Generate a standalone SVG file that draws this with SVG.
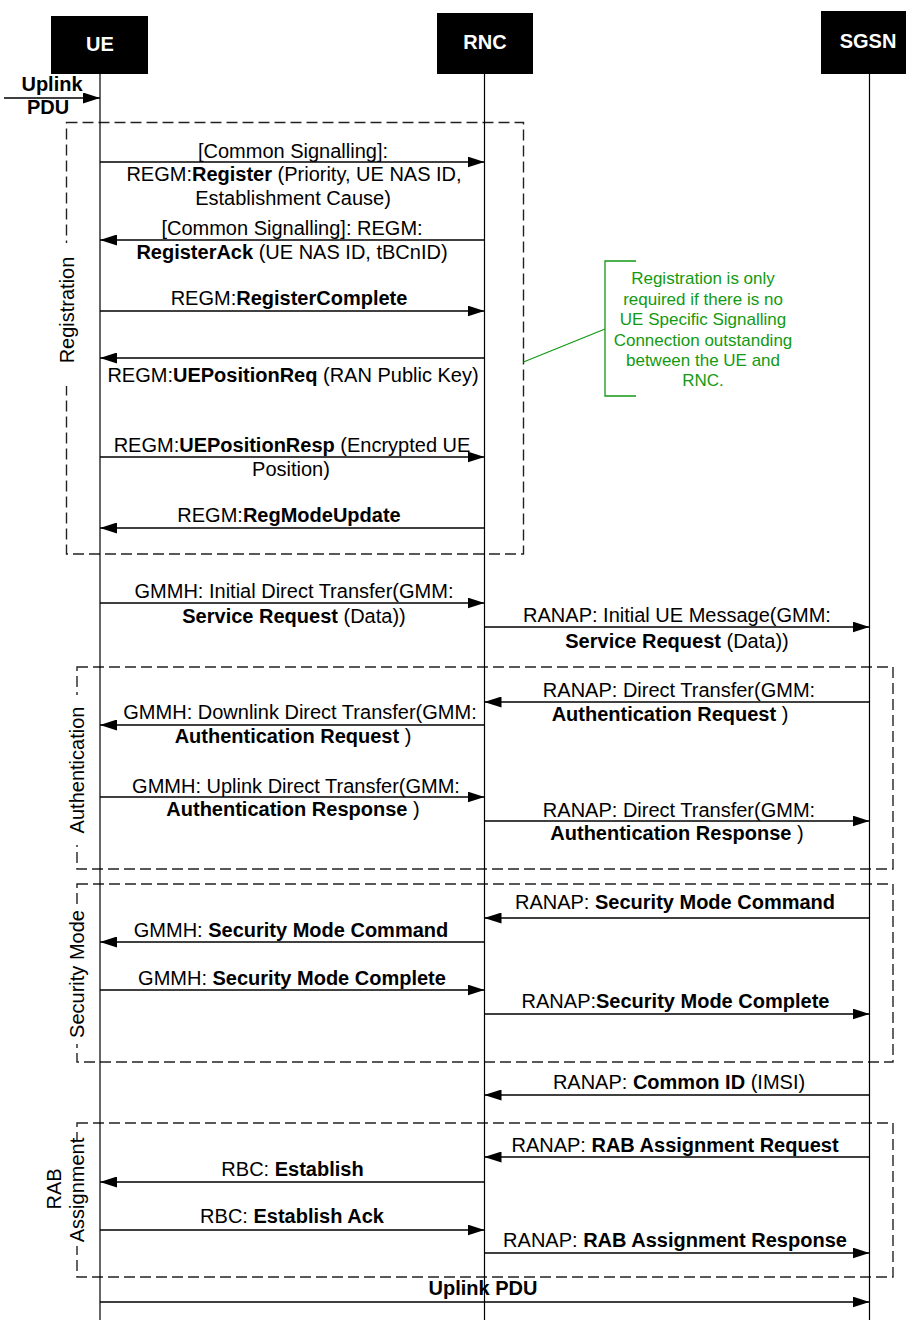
<svg xmlns="http://www.w3.org/2000/svg" width="906" height="1320" viewBox="0 0 906 1320">
<style>
.t{font-family:"Liberation Sans",Arial,sans-serif;font-size:20px;fill:#000;text-anchor:middle}
.b{font-weight:bold}
.hdr{font-family:"Liberation Sans",Arial,sans-serif;font-size:20px;font-weight:bold;fill:#fff;text-anchor:middle}
.note{font-family:"Liberation Sans",Arial,sans-serif;font-size:17px;fill:#129a12;text-anchor:middle}
.msg{stroke:#000;stroke-width:1.3;fill:none;marker-end:url(#ah)}
.life{stroke:#000;stroke-width:1.2}
.frame{fill:none;stroke:#222;stroke-width:1.4;stroke-dasharray:11 5}
.bg{fill:#fff}
</style>
<defs>
<marker id="ah" markerWidth="17" markerHeight="11" refX="17" refY="5.5" orient="auto" markerUnits="userSpaceOnUse"><path d="M0,0 L17,5.5 L0,11 Z" fill="#000"/></marker>
</defs>
<rect width="906" height="1320" fill="#fff"/>

<g id="frames">
<g id="frame-registration">
<rect class="frame" x="66.5" y="122.5" width="457" height="431.5"/>
<rect class="bg" x="56" y="243" width="22" height="143"/>
<text class="t" transform="translate(74,310) rotate(-90)">Registration</text>
</g>
<g id="frame-authentication">
<rect class="frame" x="77" y="667" width="816" height="202"/>
<rect class="bg" x="66" y="695" width="24" height="150"/>
<text class="t" transform="translate(84,770) rotate(-90)">Authentication</text>
</g>
<g id="frame-security">
<rect class="frame" x="77" y="884" width="816" height="178"/>
<rect class="bg" x="66" y="905" width="24" height="139"/>
<text class="t" transform="translate(84,974) rotate(-90)">Security Mode</text>
</g>
<g id="frame-rab">
<rect class="frame" x="77" y="1123" width="816" height="154"/>
<rect class="bg" x="66" y="1140" width="26" height="106"/>
<text class="t" transform="translate(61,1189) rotate(-90)">RAB</text>
<text class="t" transform="translate(84,1190) rotate(-90)">Assignment</text>
</g>
</g>

<g id="UE">
<line class="life" x1="100" y1="74" x2="100" y2="1320"/>
<rect x="51" y="16" width="97" height="58" fill="#000"/>
<text class="hdr" x="100" y="51">UE</text>
</g>
<g id="RNC">
<line class="life" x1="484.5" y1="74" x2="484.5" y2="1320"/>
<rect x="437" y="13" width="96" height="61" fill="#000"/>
<text class="hdr" x="485" y="49">RNC</text>
</g>
<g id="SGSN">
<line class="life" x1="869.5" y1="74" x2="869.5" y2="1320"/>
<rect x="821" y="11" width="86" height="63" fill="#000"/>
<text class="hdr" x="868" y="48">SGSN</text>
</g>

<g id="note">
<path d="M636,261 H605 V396 H636" fill="none" stroke="#129a12" stroke-width="1.3"/>
<path d="M523.5,362 L605,329" fill="none" stroke="#129a12" stroke-width="1.3"/>
<text class="note" x="703" y="284">Registration is only</text>
<text class="note" x="703" y="304.5">required if there is no</text>
<text class="note" x="703" y="325">UE Specific Signalling</text>
<text class="note" x="703" y="345.5">Connection outstanding</text>
<text class="note" x="703" y="366">between the UE and</text>
<text class="note" x="703" y="386">RNC.</text>
</g>

<g id="connectors">
<line class="msg" x1="4" y1="98" x2="100" y2="98"/>
<text class="t b" x="52" y="91">Uplink</text>
<text class="t b" x="48" y="114">PDU</text>

<line class="msg" x1="100" y1="162" x2="484.5" y2="162"/>
<text class="t" x="293" y="158">[Common Signalling]:</text>
<text class="t" x="294" y="181">REGM:<tspan class="b">Register</tspan> (Priority, UE NAS ID,</text>
<text class="t" x="293" y="205">Establishment Cause)</text>

<line class="msg" x1="484.5" y1="240" x2="100" y2="240"/>
<text class="t" x="292" y="235">[Common Signalling]: REGM:</text>
<text class="t" x="292" y="259"><tspan class="b">RegisterAck</tspan> (UE NAS ID, tBCnID)</text>

<line class="msg" x1="100" y1="311" x2="484.5" y2="311"/>
<text class="t" x="289" y="305">REGM:<tspan class="b">RegisterComplete</tspan></text>

<line class="msg" x1="484.5" y1="358" x2="100" y2="358"/>
<text class="t" x="293" y="382">REGM:<tspan class="b">UEPositionReq</tspan> (RAN Public Key)</text>

<line class="msg" x1="100" y1="457" x2="484.5" y2="457"/>
<text class="t" x="292" y="452">REGM:<tspan class="b">UEPositionResp</tspan> (Encrypted UE</text>
<text class="t" x="291" y="476">Position)</text>

<line class="msg" x1="484.5" y1="528" x2="100" y2="528"/>
<text class="t" x="289" y="522">REGM:<tspan class="b">RegModeUpdate</tspan></text>

<line class="msg" x1="100" y1="603" x2="484.5" y2="603"/>
<text class="t" x="294" y="598">GMMH: Initial Direct Transfer(GMM:</text>
<text class="t" x="294" y="623"><tspan class="b">Service Request</tspan> (Data))</text>

<line class="msg" x1="484.5" y1="627" x2="869.5" y2="627"/>
<text class="t" x="677" y="622">RANAP: Initial UE Message(GMM:</text>
<text class="t" x="677" y="648"><tspan class="b">Service Request</tspan> (Data))</text>

<line class="msg" x1="869.5" y1="702" x2="484.5" y2="702"/>
<text class="t" x="679" y="697">RANAP: Direct Transfer(GMM:</text>
<text class="t" x="670" y="721"><tspan class="b">Authentication Request</tspan> )</text>

<line class="msg" x1="484.5" y1="725" x2="100" y2="725"/>
<text class="t" x="300" y="719">GMMH: Downlink Direct Transfer(GMM:</text>
<text class="t" x="293" y="743"><tspan class="b">Authentication Request</tspan> )</text>

<line class="msg" x1="100" y1="797" x2="484.5" y2="797"/>
<text class="t" x="296" y="793">GMMH: Uplink Direct Transfer(GMM:</text>
<text class="t" x="293" y="816"><tspan class="b">Authentication Response</tspan> )</text>

<line class="msg" x1="484.5" y1="821" x2="869.5" y2="821"/>
<text class="t" x="679" y="817">RANAP: Direct Transfer(GMM:</text>
<text class="t" x="677" y="840"><tspan class="b">Authentication Response</tspan> )</text>

<line class="msg" x1="869.5" y1="918" x2="484.5" y2="918"/>
<text class="t" x="675" y="909">RANAP: <tspan class="b">Security Mode Command</tspan></text>

<line class="msg" x1="484.5" y1="942" x2="100" y2="942"/>
<text class="t" x="291" y="937">GMMH: <tspan class="b">Security Mode Command</tspan></text>

<line class="msg" x1="100" y1="990" x2="484.5" y2="990"/>
<text class="t" x="292" y="985">GMMH: <tspan class="b">Security Mode Complete</tspan></text>

<line class="msg" x1="484.5" y1="1014" x2="869.5" y2="1014"/>
<text class="t" x="675.5" y="1008">RANAP:<tspan class="b">Security Mode Complete</tspan></text>

<line class="msg" x1="869.5" y1="1095" x2="484.5" y2="1095"/>
<text class="t" x="679" y="1089">RANAP: <tspan class="b">Common ID</tspan> (IMSI)</text>

<line class="msg" x1="869.5" y1="1157" x2="484.5" y2="1157"/>
<text class="t" x="675" y="1152">RANAP: <tspan class="b">RAB Assignment Request</tspan></text>

<line class="msg" x1="484.5" y1="1182" x2="100" y2="1182"/>
<text class="t" x="292.5" y="1176">RBC: <tspan class="b">Establish</tspan></text>

<line class="msg" x1="100" y1="1230" x2="484.5" y2="1230"/>
<text class="t" x="292" y="1223">RBC: <tspan class="b">Establish Ack</tspan></text>

<line class="msg" x1="484.5" y1="1253" x2="869.5" y2="1253"/>
<text class="t" x="675" y="1247">RANAP: <tspan class="b">RAB Assignment Response</tspan></text>

<line class="msg" x1="100" y1="1302" x2="869.5" y2="1302"/>
<text class="t b" x="483" y="1295">Uplink PDU</text>
</g>
</svg>
